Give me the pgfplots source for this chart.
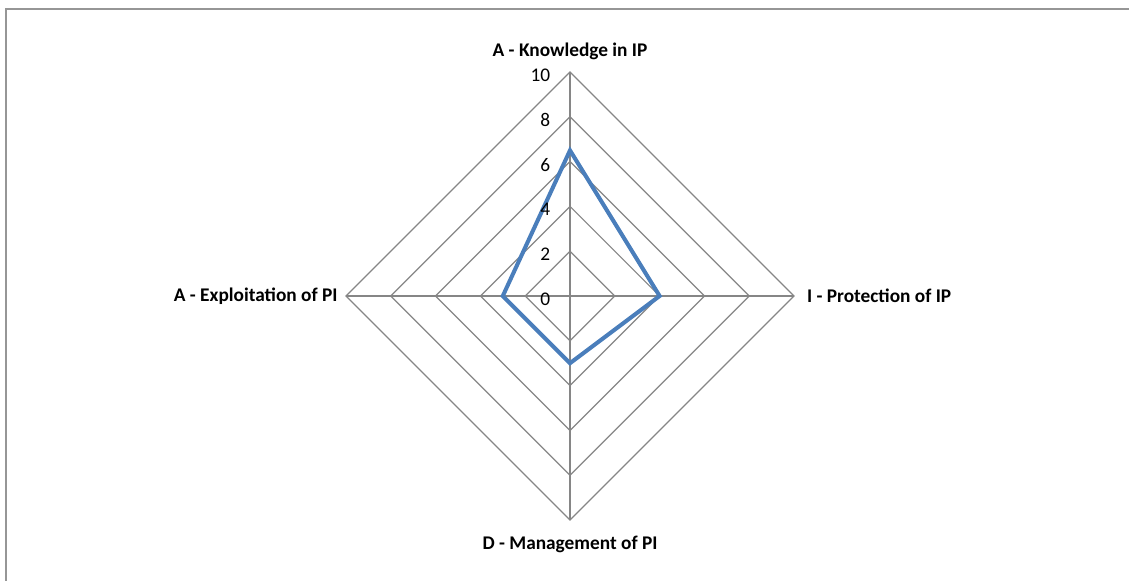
\documentclass[border=0pt]{standalone}
\usepackage{fontspec}
\setmainfont{Carlito}
\usepackage{pgfplots}
\pgfplotsset{compat=1.18}
\definecolor{gridgray}{RGB}{134,134,134}
\definecolor{framegray}{RGB}{150,150,150}
\definecolor{serieblue}{RGB}{74,126,187}
\begin{document}
\begin{tikzpicture}
\path[use as bounding box] (0,0) rectangle (11.29,5.81);
\draw[framegray, line width=0.45pt] (0.06,0) -- (0.06,5.72) -- (11.29,5.72);
\begin{axis}[
  anchor=origin, at={(5.70cm,2.85cm)},
  x=0.224cm, y=0.224cm,
  xmin=-10, xmax=10, ymin=-10, ymax=10,
  hide axis, clip=false,
]
% diamond grid rings
\addplot[gridgray, line width=0.35pt] coordinates {(0,2) (2,0) (0,-2) (-2,0)} -- cycle;
\addplot[gridgray, line width=0.35pt] coordinates {(0,4) (4,0) (0,-4) (-4,0)} -- cycle;
\addplot[gridgray, line width=0.35pt] coordinates {(0,6) (6,0) (0,-6) (-6,0)} -- cycle;
\addplot[gridgray, line width=0.35pt] coordinates {(0,8) (8,0) (0,-8) (-8,0)} -- cycle;
\addplot[gridgray, line width=0.35pt] coordinates {(0,10) (10,0) (0,-10) (-10,0)} -- cycle;
% spokes
\addplot[gridgray, line width=0.4pt] coordinates {(0,-10) (0,10)};
\addplot[gridgray, line width=0.4pt] coordinates {(-10,0) (10,0)};
% series
\addplot[serieblue, line width=1.15pt, line join=miter] coordinates {
  (0,6.5) (4,0) (0,-3) (-3,0)
} -- cycle;
% value labels
\foreach \v in {0,2,...,10} {
  \edef\tmp{\noexpand\node[anchor=east, inner sep=0pt, font=\noexpand\fontsize{5.5}{6}\noexpand\selectfont]
    at (axis cs:-0.85,\v-0.15) {\v};}
  \tmp
}
% category labels
\node[anchor=center, inner sep=0pt, font=\fontsize{5.5}{6}\selectfont\bfseries] at (axis cs:0,10.9) {A - Knowledge in IP};
\node[anchor=west, inner sep=0pt, font=\fontsize{5.5}{6}\selectfont\bfseries] at (axis cs:10.55,0) {I - Protection of IP};
\node[anchor=center, inner sep=0pt, font=\fontsize{5.5}{6}\selectfont\bfseries] at (axis cs:0,-11.1) {D - Management of PI};
\node[anchor=east, inner sep=0pt, font=\fontsize{5.5}{6}\selectfont\bfseries] at (axis cs:-10.35,0) {A - Exploitation of PI};
\end{axis}
\end{tikzpicture}
\end{document}
